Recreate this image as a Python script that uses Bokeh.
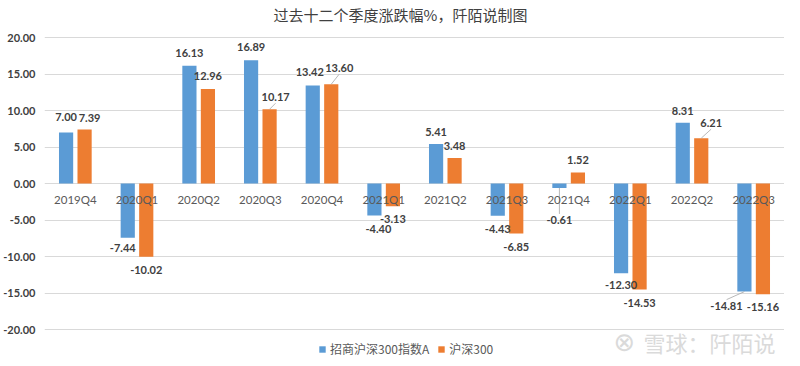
from bokeh.plotting import figure
from bokeh.models import (ColumnDataSource, FactorRange, Range1d, FixedTicker,
                          NumeralTickFormatter, Legend, LegendItem, Label)
from bokeh.transform import dodge
from bokeh.core.properties import value
from bokeh.embed import file_html
from bokeh.resources import INLINE

# ---------------- data ----------------
quarters = ["2019Q4", "2020Q1", "2020Q2", "2020Q3", "2020Q4", "2021Q1",
            "2021Q2", "2021Q3", "2021Q4", "2022Q1", "2022Q2", "2022Q3"]
fund_values = [7.00, -7.44, 16.13, 16.89, 13.42, -4.40, 5.41, -4.43, -0.61, -12.30, 8.31, -14.81]
index_values = [7.39, -10.02, 12.96, 10.17, 13.60, -3.13, 3.48, -6.85, 1.52, -14.53, 6.21, -15.16]
series_names = ["招商沪深300指数A", "沪深300"]
y_ticks = [-20, -15, -10, -5, 0, 5, 10, 15, 20]
title_text = "过去十二个季度涨跌幅%，阡陌说制图"
watermark_text = "雪球：阡陌说"

# data-label placement nudges (pixels): horizontal shift, distance from bar end
fund_label_dx = [0, -5, 0, 0, -3, 4, 0, 0, 0, 0, 0, -18]
fund_label_gap = [15, 10, 13, 13, 14, 13, 12, 13, 32, 12, 12, 14]
index_label_dx = [5, 0, 0, 6, 8, 0, 0, 0, 0, 0, 10, 0]
index_label_gap = [12, 13, 13, 12, 16, 13, 12, 13, 12, 13, 15, 13]
# labels that carry a leader line (indices into the series)
fund_leaders = [8, 11]
index_leaders = [3, 4, 10]

BLUE = "#5B9BD5"
ORANGE = "#ED7D31"
NUM_FONT = "Lato"
CJK_FONT = "Noto Sans CJK SC"

W = 784
H = 358
LEFT = 36
PX_PER_UNIT = 7.3
TOP_PAD_PX = 37
BOTTOM_PAD_PX = 29
OFF = 0.15
BAR_W = 0.23
y_lo = y_ticks[0] - BOTTOM_PAD_PX / PX_PER_UNIT
y_hi = y_ticks[-1] + TOP_PAD_PX / PX_PER_UNIT
PX_PER_FACTOR = (W - LEFT) / len(quarters)

p = figure(width=W, height=H, x_range=FactorRange(*quarters, range_padding=0),
           y_range=Range1d(y_lo, y_hi), output_backend="svg", toolbar_location=None,
           x_axis_location=None, min_border_left=LEFT, min_border_right=0,
           min_border_top=0, min_border_bottom=0)
p.outline_line_color = None
p.xgrid.grid_line_color = None
p.ygrid.grid_line_color = "#D9D9D9"
p.ygrid.ticker = FixedTicker(ticks=y_ticks)

yax = p.yaxis[0]
yax.ticker = FixedTicker(ticks=y_ticks)
yax.formatter = NumeralTickFormatter(format="0.00")
yax.axis_line_color = None
yax.major_tick_line_color = None
yax.minor_tick_line_color = None
yax.major_label_text_font = NUM_FONT
yax.major_label_text_font_style = "bold"
yax.major_label_text_font_size = "11px"
yax.major_label_text_color = "#404040"
yax.major_label_standoff = 3


def label_y(vals, gaps):
    return [v + g / PX_PER_UNIT if v >= 0 else v - g / PX_PER_UNIT for v, g in zip(vals, gaps)]


src = ColumnDataSource(dict(
    q=quarters, a=fund_values, b=index_values,
    ta=[f"{v:.2f}" for v in fund_values], tb=[f"{v:.2f}" for v in index_values],
    ya=label_y(fund_values, fund_label_gap), yb=label_y(index_values, index_label_gap),
    dxa=fund_label_dx, dxb=index_label_dx, zero=[0] * len(quarters),
))

ra = p.vbar(x=dodge("q", -OFF, range=p.x_range), top="a", bottom=0, width=BAR_W,
            source=src, fill_color=BLUE, line_color=None)
rb = p.vbar(x=dodge("q", OFF, range=p.x_range), top="b", bottom=0, width=BAR_W,
            source=src, fill_color=ORANGE, line_color=None)

# leader lines (synthetic categorical coordinates: factor i centred at i + 0.5)
lx0, lx1, ly0, ly1 = [], [], [], []
for idxs, vals, dxs, gaps, off in ((fund_leaders, fund_values, fund_label_dx, fund_label_gap, -OFF),
                                   (index_leaders, index_values, index_label_dx, index_label_gap, OFF)):
    for i in idxs:
        v = vals[i]
        sgn = 1 if v >= 0 else -1
        xc = i + 0.5 + off
        lx0.append(xc)
        lx1.append(xc + dxs[i] / PX_PER_FACTOR)
        ly0.append(v)
        ly1.append(v + sgn * (gaps[i] - 6) / PX_PER_UNIT)
p.segment(x0=lx0, y0=ly0, x1=lx1, y1=ly1, line_color="#A6A6A6", line_width=0.8)

for col, ycol, dxcol, off in (("ta", "ya", "dxa", -OFF), ("tb", "yb", "dxb", OFF)):
    p.text(x=dodge("q", off, range=p.x_range), y=ycol, text=col, source=src, x_offset=dxcol,
           text_font=value(NUM_FONT), text_font_style="bold", text_font_size="11px",
           text_color="#404040", text_align="center", text_baseline="middle")

# category labels along the zero line
p.text(x="q", y="zero", text="q", source=src, y_offset=16,
       text_font=value(NUM_FONT), text_font_size="11.5px", text_color="#595959",
       text_align="center", text_baseline="middle")

# title
p.add_layout(Label(x=356, y=H - 14, x_units="screen", y_units="screen", text=title_text,
                   text_font=CJK_FONT, text_font_size="15px", text_color="#404040",
                   text_align="center", text_baseline="middle"))

# watermark (logo + text)
p.add_layout(Label(x=580, y=H - 341, x_units="screen", y_units="screen", text="⊗",
                   text_font="DejaVu Sans", text_font_size="26px", text_color="#DADADA",
                   text_align="center", text_baseline="middle"))
p.add_layout(Label(x=599, y=H - 341, x_units="screen", y_units="screen", text=watermark_text,
                   text_font=CJK_FONT, text_font_size="22px", text_color="#DADADA",
                   text_align="left", text_baseline="middle"))

legend = Legend(items=[LegendItem(label=series_names[0], renderers=[ra]),
                       LegendItem(label=series_names[1], renderers=[rb])],
                location=(274, 1), orientation="horizontal",
                background_fill_alpha=0, border_line_color=None,
                glyph_width=8, glyph_height=8, label_height=14, label_standoff=4,
                spacing=8, padding=2, margin=0,
                label_text_font=CJK_FONT, label_text_font_size="12px",
                label_text_color="#595959")
p.add_layout(legend, "center")

open("out.html", "w").write(file_html(p, INLINE))
